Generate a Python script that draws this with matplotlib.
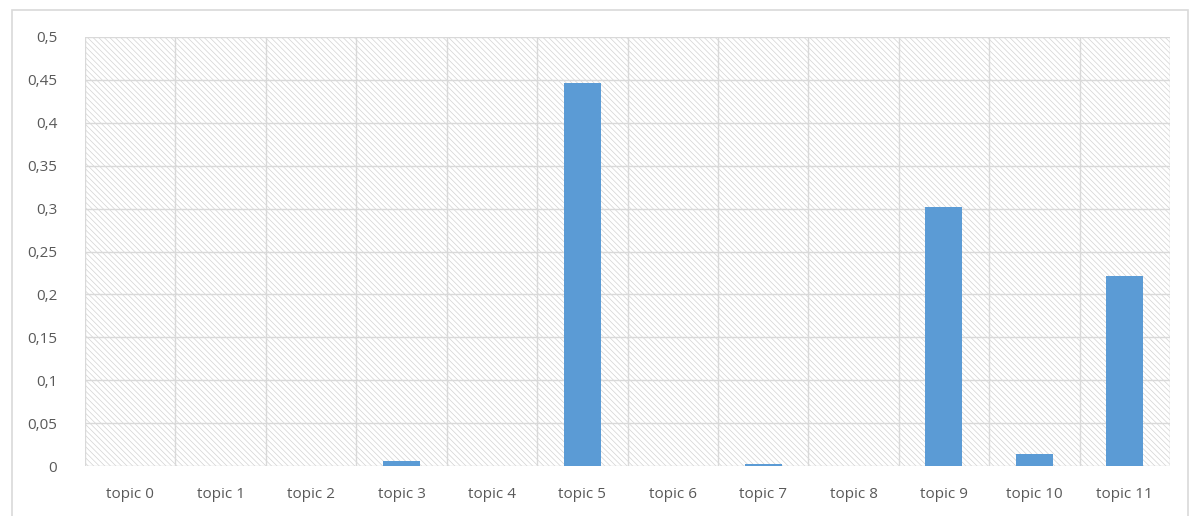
import matplotlib.pyplot as plt
from matplotlib.patches import Rectangle
import numpy as np

# topic weights
topics = ['topic 0', 'topic 1', 'topic 2', 'topic 3', 'topic 4', 'topic 5',
          'topic 6', 'topic 7', 'topic 8', 'topic 9', 'topic 10', 'topic 11']
weights = [0.0, 0.0, 0.0, 0.006, 0.0, 0.446, 0.0, 0.002, 0.0, 0.302, 0.014, 0.221]
yticks = [0, 0.05, 0.1, 0.15, 0.2, 0.25, 0.3, 0.35, 0.4, 0.45, 0.5]
ylabels = ['0', '0,05', '0,1', '0,15', '0,2', '0,25', '0,3', '0,35', '0,4', '0,45', '0,5']

plt.rcParams['font.family'] = ['Open Sans', 'DejaVu Sans']
plt.rcParams['hatch.linewidth'] = 0.5

fig = plt.figure(figsize=(11.94, 5.16), dpi=100)
ax = fig.add_axes([85 / 1194, 1 - 466 / 516, 1085 / 1194, 429 / 516])

# chart frame
fig.patches.append(Rectangle((12 / 1194, -0.02), 1176 / 1194, 1 - 10 / 516 + 0.02,
                             transform=fig.transFigure, fill=False,
                             edgecolor='#d9d9d9', linewidth=1.2))

# hatched plot area
ax.set_facecolor('white')
ax.add_patch(Rectangle((0, 0), 1, 1, transform=ax.transAxes, facecolor='white',
                       edgecolor='#d3d3d3', linewidth=0, hatch='\\' * 6, zorder=0))

x = np.arange(len(topics))
ax.bar(x, weights, width=0.41, color='#5b9bd5', zorder=3)

ax.set_xlim(-0.5, len(topics) - 0.5)
ax.set_ylim(0, 0.5)
ax.set_yticks(yticks)
ax.set_yticklabels(ylabels)
ax.set_xticks(x)
ax.set_xticklabels(topics)

# gridlines: horizontal at ticks, vertical between categories
for y in yticks:
    ax.axhline(y, color='#d9d9d9', linewidth=1, zorder=1)
for b in np.arange(-0.5, len(topics), 1):
    ax.axvline(b, color='#d9d9d9', linewidth=1, zorder=1)

for s in ax.spines.values():
    s.set_visible(False)
ax.tick_params(length=0, labelsize=11, labelcolor='#595959')
ax.tick_params(axis='y', pad=20)
ax.tick_params(axis='x', pad=15)

fig.savefig('out.png', dpi=100)
